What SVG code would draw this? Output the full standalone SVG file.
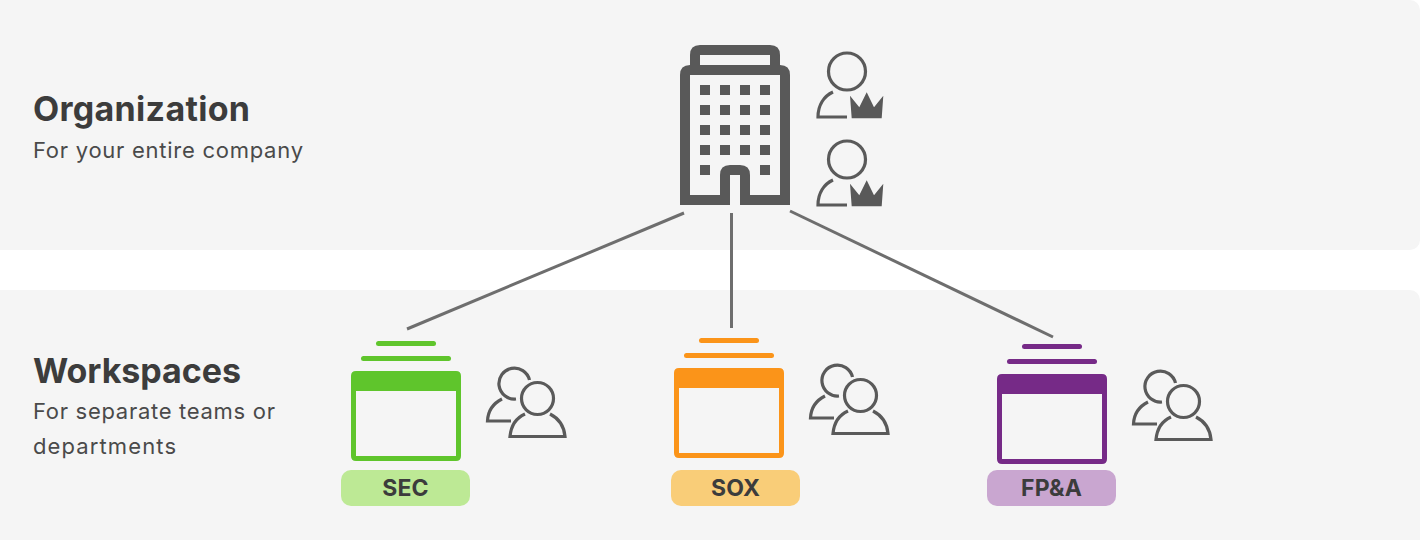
<svg xmlns="http://www.w3.org/2000/svg" xmlns:xlink="http://www.w3.org/1999/xlink" width="1420" height="540" viewBox="0 0 1420 540">
<style>
.band{fill:#f5f5f5}
text{font-family:"Inter","Liberation Sans",sans-serif;fill:#3c3c3c}
.h{font-size:34px;font-weight:700}
.s{font-size:22px;font-weight:400;fill:#4a4a4a}
.p{font-size:23px;font-weight:700;text-anchor:middle;letter-spacing:.2px}
.ic{fill:none;stroke:#5a5a5a;stroke-width:3.2}
.dark{fill:#595959}
.conn{stroke:#6e6e6e;stroke-width:3;fill:none}
</style>
<defs>
<g id="admin">
<circle class="ic" cx="847" cy="71.500" r="18.500"/>
<path class="ic" d="M833 92C824 96 818 105 818 117H847"/>
<path class="dark" d="M850 95.700L859.300 107.300L866.700 92.300L874 107.300L883.300 95.700L881.700 118.300H851.700Z"/>
</g>
<g id="team">
<path class="ic" d="M529.500 380A15.500 15.500 0 1 0 516 399"/>
<circle class="ic" cx="537.500" cy="398.500" r="16"/>
<path class="ic" d="M502 399C494 403 488 410 487.500 421H511"/>
<path class="ic" d="M525 414C516 418 511 426 510 436.500H565C564 426 558 418 550 414"/>
</g>
</defs>
<rect class="band" x="-10" y="0" width="1430" height="250" rx="10"/>
<rect class="band" x="-10" y="290" width="1430" height="260" rx="10"/>
<text class="h" x="33" y="121" textLength="217">Organization</text>
<text class="s" x="33" y="158" textLength="270">For your entire company</text>
<text class="h" x="33" y="383" textLength="208">Workspaces</text>
<text class="s" x="33" y="419" textLength="242">For separate teams or</text>
<text class="s" x="33" y="454" textLength="143">departments</text>
<g id="connectors">
<path class="conn" d="M684 213L407 329"/>
<path class="conn" d="M731.500 213V328"/>
<path class="conn" d="M790 211L1053 337"/>
</g>
<g id="organization">
<path class="dark" fill-rule="evenodd" d="M680 75Q680 65 690 65V55Q690 45 700 45H770Q780 45 780 55V65Q790 65 790 75V205H740V175H730V205H680ZM700 55V65H770V55ZM690 75V195H720V175Q720 165 730 165H740Q750 165 750 175V195H780V75Z"/>
<path class="dark" d="M700 85h10v10h-10zM720 85h10v10h-10zM740 85h10v10h-10zM760 85h10v10h-10zM700 105h10v10h-10zM720 105h10v10h-10zM740 105h10v10h-10zM760 105h10v10h-10zM700 125h10v10h-10zM720 125h10v10h-10zM740 125h10v10h-10zM760 125h10v10h-10zM700 145h10v10h-10zM720 145h10v10h-10zM740 145h10v10h-10zM760 145h10v10h-10zM700 165h10v10h-10zM760 165h10v10h-10z"/>
</g>
<g id="admin-1"><use href="#admin"/></g>
<g id="admin-2"><use href="#admin" y="88"/></g>
<g id="workspace-sec">
<rect x="376" y="341" width="60" height="5" rx="2.500" fill="#5fc52c"/>
<rect x="361" y="356" width="90" height="5" rx="2.500" fill="#5fc52c"/>
<path fill="#5fc52c" fill-rule="evenodd" d="M356 371H456Q461 371 461 376V456Q461 461 456 461H356Q351 461 351 456V376Q351 371 356 371ZM356 391V456H456V391Z"/>
<rect x="341" y="470" width="129" height="36" rx="10" fill="#bde995"/>
<text class="p" x="405.500" y="496">SEC</text>
<use href="#team"/>
</g>
<g id="workspace-sox">
<rect x="699" y="338" width="60" height="5" rx="2.500" fill="#fb9419"/>
<rect x="684" y="353" width="90" height="5" rx="2.500" fill="#fb9419"/>
<path fill="#fb9419" fill-rule="evenodd" d="M679 368H779Q784 368 784 373V453Q784 458 779 458H679Q674 458 674 453V373Q674 368 679 368ZM679 388V453H779V388Z"/>
<rect x="671" y="470" width="129" height="36" rx="10" fill="#f9cd78"/>
<text class="p" x="735.500" y="496">SOX</text>
<use href="#team" x="323" y="-3"/>
</g>
<g id="workspace-fpa">
<rect x="1022" y="344" width="60" height="5" rx="2.500" fill="#762a87"/>
<rect x="1007" y="359" width="90" height="5" rx="2.500" fill="#762a87"/>
<path fill="#762a87" fill-rule="evenodd" d="M1002 374H1102Q1107 374 1107 379V459Q1107 464 1102 464H1002Q997 464 997 459V379Q997 374 1002 374ZM1002 394V459H1102V394Z"/>
<rect x="987" y="470" width="129" height="36" rx="10" fill="#c9a6d0"/>
<text class="p" x="1051.500" y="496">FP&amp;A</text>
<use href="#team" x="646" y="3"/>
</g>
</svg>
